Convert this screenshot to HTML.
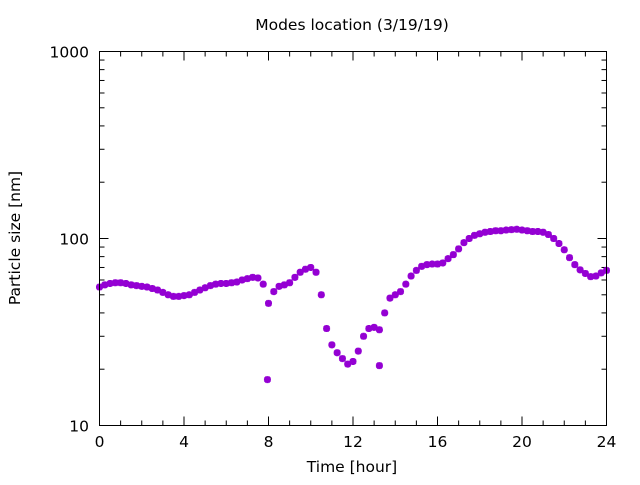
<!DOCTYPE html>
<html><head><meta charset="utf-8"><style>
html,body{margin:0;padding:0;background:#fff;}
svg text{font-family:"DejaVu Sans","Liberation Sans",sans-serif;font-size:15.5px;fill:#000;}
</style></head><body>
<svg id="chart" width="640" height="480" xmlns="http://www.w3.org/2000/svg">
<text x="352" y="30" text-anchor="middle">Modes location (3/19/19)</text>
<text x="352" y="472" text-anchor="middle">Time [hour]</text>
<text transform="translate(20,238) rotate(-90)" text-anchor="middle">Particle size [nm]</text>
<g id="axes"></g>
<g id="marks"></g>
<rect x="99.5" y="51.5" width="507" height="374" fill="none" stroke="#000" stroke-width="1"/>
</svg>
<script>
const hours = [];
for (let i = 0; i <= 96; i++) hours.push(i * 0.25);
const sizes = [55,56.5,57.5,58,58,57.5,56.5,56,55.5,55,54,53,51.5,50,49,49,49.5,50,51.5,53,54.5,56,57,57.5,57.5,58,58.5,60,61,62,61.5,57,45,52,55.5,56.5,58,62,66,68.5,70,66,50,33,27,24.5,22.8,21.3,22,25,30,33,33.5,32.5,40,48,50,52,57,63,67.5,71,72.5,73,73,74,78,82,88,95,100,104,106,108,109,110,110,111,111.5,112,111,110,109,109,108,105,100,94,87,79,72.5,68,65,62.5,63,65.5,67.5];
const outlierHours = [7.95, 13.25];
const outlierSizes = [17.6, 20.9];
const xTicks = [0,4,8,12,16,20,24];
const yTicks = [10,100,1000];

const NS = "http://www.w3.org/2000/svg";
const X0 = 99.5, X1 = 606.5, Y0 = 425.5, Y1 = 51.5;
const xs = h => X0 + (h / 24) * (X1 - X0);
const ys = v => Y0 - (Math.log10(v) - 1) / 2 * (Y0 - Y1);
const axes = document.getElementById('axes');
const marks = document.getElementById('marks');
function line(x1,y1,x2,y2,parent){
  const l = document.createElementNS(NS,'line');
  l.setAttribute('x1',x1);l.setAttribute('y1',y1);l.setAttribute('x2',x2);l.setAttribute('y2',y2);
  l.setAttribute('stroke','#000');l.setAttribute('stroke-width','1');
  parent.appendChild(l);
  return l;
}
for (let h = 0; h <= 24; h++) {
  const major = xTicks.includes(h);
  const len = major ? 9 : 5;
  const x = xs(h);
  const t1 = line(x, Y0, x, Y0 - len, axes);
  
  
  const t2 = line(x, Y1, x, Y1 + len, axes);
  
  
}
xTicks.forEach(h => {
  const t = document.createElementNS(NS,'text');
  t.setAttribute('x', xs(h)); t.setAttribute('y', 447); t.setAttribute('text-anchor','middle');
  t.textContent = h;
  
  
  axes.appendChild(t);
});
for (let d = 10; d < 1000; d *= 10) {
  for (let m = 2; m <= 9; m++) {
    const y = ys(d * m);
    const a = line(X0, y, X0 + 5, y, axes);
    
    
    const b = line(X1, y, X1 - 5, y, axes);
    
    
  }
}
yTicks.forEach(v => {
  const y = ys(v);
  const a = line(X0, y, X0 + 9, y, axes);
  
  
  const b = line(X1, y, X1 - 9, y, axes);
  
  
  const t = document.createElementNS(NS,'text');
  t.setAttribute('x', 89); t.setAttribute('y', y + 6); t.setAttribute('text-anchor','end');
  t.textContent = v;
  
  
  axes.appendChild(t);
});
function marker(h, v) {
  const x = xs(h), y = ys(v), r = 3.5, q = 2.6;
  const p = document.createElementNS(NS,'path');
  p.setAttribute('d', `M${x-r},${y}H${x+r}M${x},${y-r}V${y+r}M${x-q},${y-q}L${x+q},${y+q}M${x-q},${y+q}L${x+q},${y-q}`);
  p.setAttribute('stroke', '#9400d3');
  p.setAttribute('stroke-width', '2.4');
  p.setAttribute('fill', 'none');
  
  
  marks.appendChild(p);
}
hours.forEach((h, i) => marker(h, sizes[i]));
outlierHours.forEach((h, i) => marker(h, outlierSizes[i]));
</script>
</body></html>
